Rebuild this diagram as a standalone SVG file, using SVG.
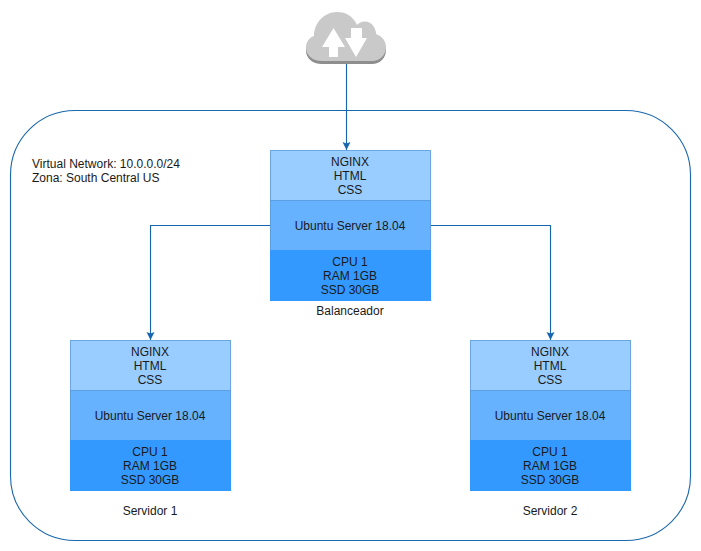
<svg xmlns="http://www.w3.org/2000/svg" width="701" height="551" viewBox="0 0 701 551">
<style>
text{font-family:"Liberation Sans",Arial,sans-serif;font-size:12px;fill:#1a1a1a;text-anchor:middle}
.top{fill:#99ccff;stroke:#6ca6e0;stroke-width:1}
.mid{fill:#66b2ff;stroke:#5c9fe0;stroke-width:1}
.bot{fill:#3399ff;stroke:#3399ff;stroke-width:1}
.c{fill:none;stroke:#1565b0;stroke-width:1.1}
.s{fill:#1565b0;stroke:none}
.l{text-anchor:start}
</style>
<defs>
<marker id="a" markerUnits="userSpaceOnUse" markerWidth="10" markerHeight="10" refX="8" refY="4.500" orient="auto"><path class="s" d="M0 0.500L8 4.500L0 8.500L1.500 4.500Z"/></marker>
<g id="stack">
<rect class="top" x="0.5" y="0.5" width="160" height="50"/>
<rect class="mid" x="0.5" y="50.5" width="160" height="50"/>
<rect class="bot" x="0.5" y="100.5" width="160" height="50"/>
<text x="80" y="16">NGINX</text>
<text x="80" y="30">HTML</text>
<text x="80" y="44">CSS</text>
<text x="80" y="80">Ubuntu Server 18.04</text>
<text x="80" y="116">CPU 1</text>
<text x="80" y="130">RAM 1GB</text>
<text x="80" y="144">SSD 30GB</text>
</g>
</defs>
<rect width="701" height="551" fill="#fff"/>
<rect id="vnet" x="10.5" y="110.5" width="680" height="430" rx="64.5" fill="#fff" stroke="#1a68ad" stroke-width="1.1"/>
<g id="vnet-label"><text class="l" x="32" y="168">Virtual Network: 10.0.0.0/24</text><text class="l" x="32" y="182">Zona: South Central US</text></g>
<g id="connectors">
<path class="c" marker-end="url(#a)" d="M346.500 64V150"/>
<path class="c" marker-end="url(#a)" d="M270 225.500H150.500V340"/>
<path class="c" marker-end="url(#a)" d="M431 225.500H550.500V340"/>
</g>
<g id="cloud">
<path fill="#8e8e8e" d="M322 64C312 64 306 58 306 50.500C306 45 309 41 314 39C314 26 324 15 337 15C346 15 353 19 357 28C361 23 370 23 374 30C375 32 376 34 376 37C382 39 386 44 386 50C386 58 380 64 372 64Z"/>
<path fill="#c9c9c9" d="M322 61C312 61 306 55 306 47.500C306 42 309 38 314 36C314 23 324 12 337 12C346 12 353 16 357 25C361 20 370 20 374 27C375 29 376 31 376 34C382 36 386 41 386 47C386 55 380 61 372 61Z"/>
<path fill="#fff" d="M333.500 28L322 47H329V57H338V47H345Z"/>
<path fill="#fff" d="M351 28H362V38H367L356 57L345 38H351Z"/>
</g>
<g id="balanceador"><use href="#stack" x="270" y="150"/><text x="350" y="315">Balanceador</text></g>
<g id="servidor1"><use href="#stack" x="70" y="340"/><text x="150" y="515">Servidor 1</text></g>
<g id="servidor2"><use href="#stack" x="470" y="340"/><text x="550" y="515">Servidor 2</text></g>
</svg>
